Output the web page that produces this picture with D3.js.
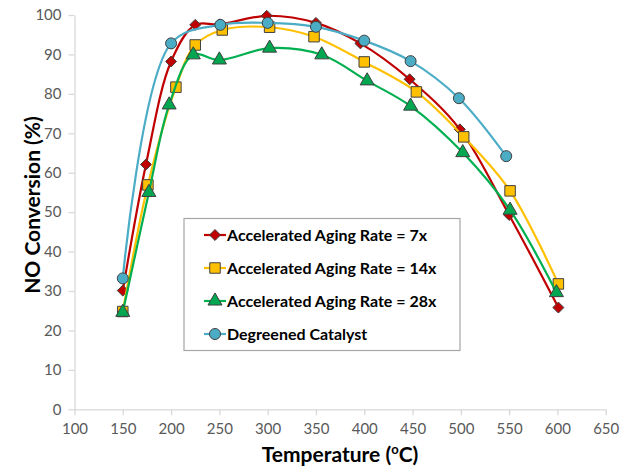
<!DOCTYPE html>
<html>
<head>
<meta charset="utf-8">
<script src="https://cdn.jsdelivr.net/npm/d3@7"></script>
<style>
  body { margin: 0; background: #fff; }
  svg { display: block; font-family: Lato, "Open Sans", sans-serif; }
</style>
</head>
<body>
<svg id="chart" width="624" height="469"></svg>
<script>
// series: [temperature, conversion]
const rate7x = [[150, 30.1], [174, 62.1], [200, 88.2], [225, 97.5], [250, 97.6], [299, 99.8],
  [350, 98.0], [396, 92.8], [447, 83.7], [499, 71.0], [550, 49.3], [601, 25.8]];
const rate14x = [[150, 24.8], [176, 56.9], [205, 81.7], [225, 92.4], [253, 96.2], [302, 96.9],
  [348, 94.5], [400, 88.1], [454, 80.5], [503, 69.1], [551, 55.4], [601, 31.8]];
const rate28x = [[150, 24.6], [177, 55.0], [198, 77.2], [223, 89.9], [250, 88.6], [302, 91.6],
  [356, 89.9], [403, 83.3], [448, 76.9], [502, 65.1], [551, 50.5], [599, 29.6]];
const degreened = [[150, 33.2], [200, 92.8], [251, 97.5], [300, 98.0], [350, 97.0],
  [400, 93.5], [448, 88.3], [498, 78.9], [547, 64.2]];

const seriesNames = ['Accelerated Aging Rate = 7x', 'Accelerated Aging Rate = 14x',
  'Accelerated Aging Rate = 28x', 'Degreened Catalyst'];
const xTicks = d3.range(100, 651, 50);
const yTicks = d3.range(0, 101, 10);

const series = [
  { name: seriesNames[0], values: rate7x, line: '#c00000', fill: '#c00000', symbol: 'diamond' },
  { name: seriesNames[1], values: rate14x, line: '#ffc000', fill: '#ffc000', symbol: 'square' },
  { name: seriesNames[2], values: rate28x, line: '#00b050', fill: '#00a650', symbol: 'triangle' },
  { name: seriesNames[3], values: degreened, line: '#4bacc6', fill: '#4bacc6', symbol: 'circle' }
];

const svg = d3.select('#chart');
const x = d3.scaleLinear().domain([100, 650]).range([74.5, 605.7]);
const y = d3.scaleLinear().domain([0, 100]).range([409.3, 15]);

const axisColor = '#d9d9d9';
const labelColor = '#595959';

// axes
const gx = svg.append('g')
  .attr('transform', `translate(0,${y(0)})`)
  .call(d3.axisBottom(x).tickValues(xTicks).tickSize(6).tickSizeOuter(0).tickPadding(8));
const gy = svg.append('g')
  .attr('transform', `translate(${x(100)},0)`)
  .call(d3.axisLeft(y).tickValues(yTicks).tickSize(6).tickSizeOuter(0).tickPadding(7));

[gx, gy].forEach(g => {
  g.select('.domain').attr('stroke', axisColor).attr('stroke-width', 1.3);
  g.selectAll('.tick line').attr('stroke', axisColor).attr('stroke-width', 1.3);
  g.selectAll('.tick text')
    .attr('fill', labelColor)
    .style('font-size', '15px')
    .style('font-family', 'Lato, "Open Sans", sans-serif');
});

// axis titles
svg.append('text')
  .attr('x', 340)
  .attr('y', 462)
  .attr('text-anchor', 'middle')
  .style('font-size', '21px')
  .style('font-weight', 'bold')
  .attr('fill', '#000')
  .call(t => {
    t.append('tspan').text('Temperature (');
    t.append('tspan').text('o').style('font-size', '13px').attr('dy', -8);
    t.append('tspan').text('C)').attr('dy', 8);
  });

svg.append('text')
  .attr('transform', 'translate(40,205) rotate(-90)')
  .attr('text-anchor', 'middle')
  .style('font-size', '21px')
  .style('font-weight', 'bold')
  .attr('fill', '#000')
  .text('NO Conversion (%)');

// symbols - excel style diamond is a rotated square
const squareDiamond = {
  draw(context, size) {
    const r = Math.sqrt(size / 2);
    context.moveTo(0, -r);
    context.lineTo(r, 0);
    context.lineTo(0, r);
    context.lineTo(-r, 0);
    context.closePath();
  }
};
const symbolType = {
  diamond: squareDiamond,
  square: d3.symbolSquare,
  triangle: d3.symbolTriangle,
  circle: d3.symbolCircle
};
const symbolSize = { diamond: 60, square: 110, triangle: 85, circle: 95 };

const line = d3.line()
  .x(d => x(d[0]))
  .y(d => y(d[1]))
  .curve(d3.curveCatmullRom.alpha(0.5));

const plot = svg.append('g');

series.forEach(s => {
  const g = plot.append('g');
  g.append('path')
    .datum(s.values)
    .attr('d', line)
    .attr('fill', 'none')
    .attr('stroke', s.line)
    .attr('stroke-width', 2.2);
  g.selectAll('path.marker')
    .data(s.values)
    .enter()
    .append('path')
    .attr('class', 'marker')
    .attr('transform', d => `translate(${x(d[0])},${y(d[1])})`)
    .attr('d', d3.symbol().type(symbolType[s.symbol]).size(symbolSize[s.symbol]))
    .attr('fill', s.fill)
    .attr('stroke', '#404040')
    .attr('stroke-width', 1);
});

// legend
const legend = svg.append('g');
legend.append('rect')
  .attr('x', 184)
  .attr('y', 218.5)
  .attr('width', 276)
  .attr('height', 132)
  .attr('fill', '#fff')
  .attr('stroke', '#a6a6a6')
  .attr('stroke-width', 1.2);

const items = legend.selectAll('g.item')
  .data(series)
  .enter()
  .append('g')
  .attr('class', 'item')
  .attr('transform', (d, i) => `translate(0,${235 + i * 33})`);

items.append('line')
  .attr('x1', 204)
  .attr('x2', 226)
  .attr('stroke', d => d.line)
  .attr('stroke-width', 2.2);
items.append('path')
  .attr('transform', 'translate(215,0)')
  .attr('d', d => d3.symbol().type(symbolType[d.symbol]).size(symbolSize[d.symbol])())
  .attr('fill', d => d.fill)
  .attr('stroke', '#404040')
  .attr('stroke-width', 1);
items.append('text')
  .attr('x', 227)
  .attr('dy', '0.35em')
  .style('font-size', '16px')
  .style('font-weight', 'bold')
  .attr('fill', '#000')
  .text(d => d.name);
</script>
</body>
</html>
